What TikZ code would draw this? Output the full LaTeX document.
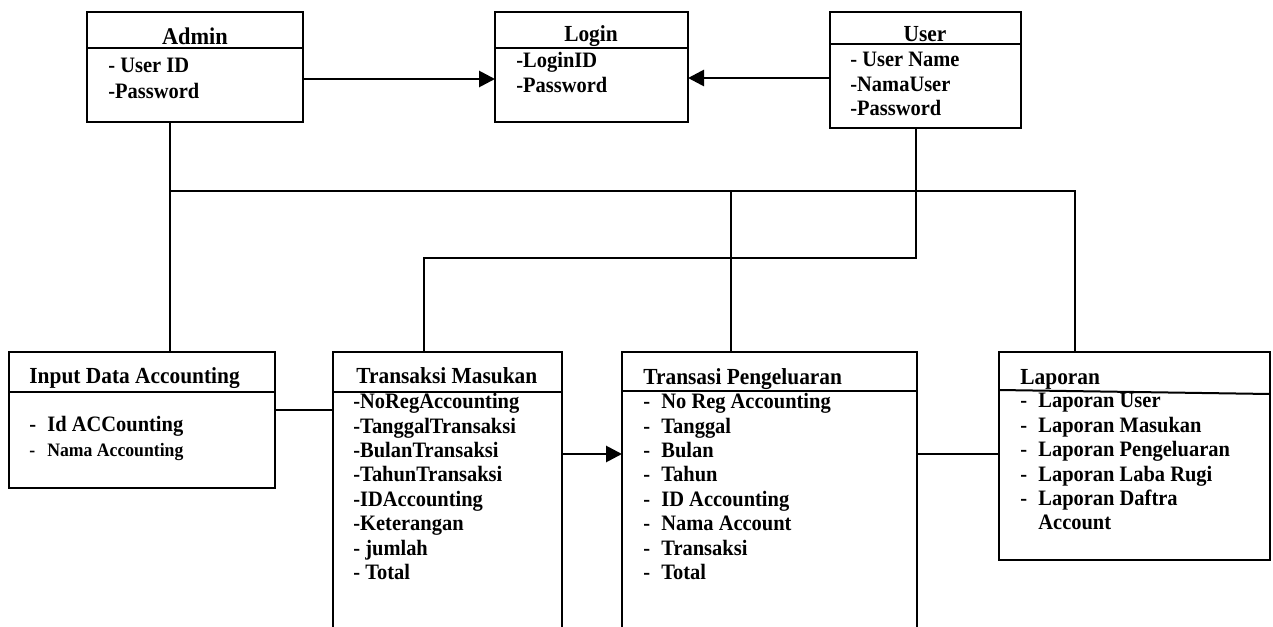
\documentclass[tikz,border=0pt]{standalone}
\usepackage{fontspec}
\setmainfont{Liberation Serif}[FakeStretch=0.93]
\usetikzlibrary{arrows.meta,positioning,calc}

\newcommand{\dashitem}[1]{\makebox[9pt][l]{-}#1}

\begin{document}
\begin{tikzpicture}[x=0.5pt,y=-0.5pt,
    box/.style={draw,line width=1pt,inner sep=0pt,outer sep=0pt,anchor=north west},
    title/.style={inner sep=0pt,font=\bfseries\fontsize{11.5}{13}\selectfont},
    attr/.style={inner sep=0pt,anchor=north west,align=left,font=\bfseries\fontsize{11}{12.2}\selectfont},
    link/.style={line width=0.8pt},
    arr/.style={line width=1.4pt,-{Triangle[length=8pt,width=8pt]}}]
    \useasboundingbox (0,0) rectangle (1273,626);
    \clip (0,0) rectangle (1273,626);

    % class boxes
    \node[box,minimum width=108pt,minimum height=55pt] (admin) at (87,12) {};
    \node[box,minimum width=96.5pt,minimum height=55pt] (login) at (495,12) {};
    \node[box,minimum width=95.5pt,minimum height=58pt] (user) at (830,12) {};
    \node[box,minimum width=133pt,minimum height=68pt] (input) at (9,352) {};
    \node[box,minimum width=114.5pt,minimum height=145pt] (tm) at (333,352) {};
    \node[box,minimum width=147.5pt,minimum height=145pt] (tp) at (622,352) {};
    \node[box,minimum width=135.5pt,minimum height=104pt] (laporan) at (999,352) {};

    % header lines
    \draw[line width=1pt] ([yshift=-18pt]admin.north west) -- ([yshift=-18pt]admin.north east);
    \draw[line width=1pt] ([yshift=-18pt]login.north west) -- ([yshift=-18pt]login.north east);
    \draw[line width=1pt] ([yshift=-16pt]user.north west) -- ([yshift=-16pt]user.north east);
    \draw[line width=1pt] ([yshift=-20pt]input.north west) -- ([yshift=-20pt]input.north east);
    \draw[line width=1pt] ([yshift=-20pt]tm.north west) -- ([yshift=-20pt]tm.north east);
    \draw[line width=1pt] ([yshift=-19.5pt]tp.north west) -- ([yshift=-19.5pt]tp.north east);
    \draw[line width=1pt] ([yshift=-19pt]laporan.north west) -- ([yshift=-21pt]laporan.north east);

    % titles
    \node[title,anchor=base,font=\bfseries\fontsize{12}{13}\selectfont] (admint) at (195,45) {Admin};
    \node[title,anchor=base] (logint) at (591,42) {Login};
    \node[title,anchor=base] (usert) at (925,42) {User};
    \node[title,anchor=base west] (inputt) at (29,383) {Input Data Accounting};
    \node[title,anchor=base west] (tmt) at (356,383) {Transaksi Masukan};
    \node[title,anchor=base west] (tpt) at (643,384) {Transasi Pengeluaran};
    \node[title,anchor=base west] (laporant) at (1020,384) {Laporan};

    % attributes
    \node[attr] (admina) at (108,58) {- User ID\\[0.8pt]-Password};
    \node[attr] (logina) at (516,52) {-LoginID\\-Password};
    \node[attr] (usera) at (850,52) {- User Name\\-NamaUser\\-Password};
    \node[attr] (inputa) at (29,416) {\dashitem{Id ACCounting}\\{\fontsize{9.5}{11}\selectfont\dashitem{Nama Accounting}}};
    \node[attr] (tma) at (353,393) {-NoRegAccounting\\-TanggalTransaksi\\-BulanTransaksi\\-TahunTransaksi\\-IDAccounting\\-Keterangan\\- jumlah\\- Total};
    \node[attr] (tpa) at (643,393) {\dashitem{No Reg Accounting}\\\dashitem{Tanggal}\\\dashitem{Bulan}\\\dashitem{Tahun}\\\dashitem{ID Accounting}\\\dashitem{Nama Account}\\\dashitem{Transaksi}\\\dashitem{Total}};
    \node[attr] (laporana) at (1020,393) {\dashitem{Laporan User}\\\dashitem{Laporan Masukan}\\\dashitem{Laporan Pengeluaran}\\\dashitem{Laporan Laba Rugi}\\\dashitem{Laporan Daftra}\\\hspace*{9pt}Account};

    % junctions
    \coordinate (j1) at (170,191);
    \coordinate (j2) at (1075,191);
    \coordinate (j3) at (916,258);
    \coordinate (j4) at (424,258);
    \coordinate (j5) at (731,191);
    \coordinate (m1) at (0,454);

    % connectors
    \draw[arr] ([yshift=-6pt]admin.east) -- ([yshift=-6pt]login.west);
    \draw[arr] ([yshift=-4pt]user.west) -- ([yshift=-4pt]user.west -| login.east);
    \draw[link] (admin.south -| j1) -- (input.north -| j1);
    \draw[link] (j1) -- (j2) -- (laporan.north -| j2);
    \draw[link] (j5) -- (tp.north -| j5);
    \draw[link] (user.south -| j3) -- (j3) -- (j4) -- (tm.north -| j4);
    \draw[link] ([yshift=5pt]input.east) -- ([yshift=5pt]input.east -| tm.west);
    \draw[arr] (tm.east |- m1) -- (tp.west |- m1);
    \draw[link] (tp.east |- m1) -- (laporan.west |- m1);
\end{tikzpicture}
\end{document}
